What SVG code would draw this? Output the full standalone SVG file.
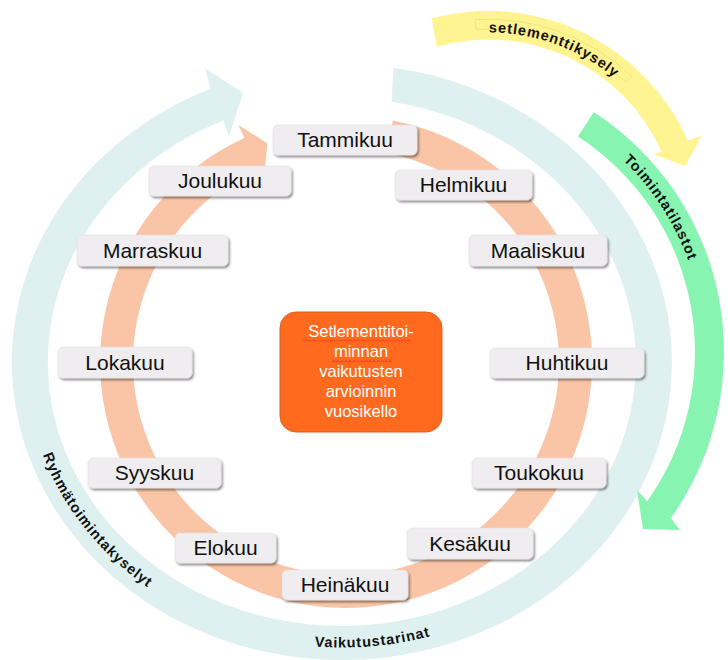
<svg xmlns="http://www.w3.org/2000/svg" width="728" height="660" viewBox="0 0 728 660">
<defs>
<style>
.month rect{fill:#EFEDEF;stroke:#E2E0E2;stroke-width:0.6;filter:url(#sh)}
.month text{font-family:"Liberation Sans",Arial,sans-serif;font-size:21px;fill:#111;text-anchor:middle}
.arclbl{font-family:"Liberation Sans",Arial,sans-serif;font-size:14.5px;font-weight:bold;fill:#111;letter-spacing:0.9px;text-anchor:middle}
.ctr{font-family:"Liberation Sans",Arial,sans-serif;font-size:16.5px;fill:#fff;text-anchor:middle}
</style>
<filter id="sh" x="-10%" y="-20%" width="125%" height="160%">
<feDropShadow dx="1.5" dy="2" stdDeviation="1.2" flood-color="#000" flood-opacity="0.45"/>
</filter>
<pattern id="squig" patternUnits="userSpaceOnUse" width="4" height="3">
<path d="M0,2.5 L2,0.5 L4,2.5" fill="none" stroke="#E02828" stroke-width="0.8"/>
</pattern>
<path id="tpY" d="M389.7,58.7 A197 197 0 0 1 685.2,229.3" fill="none"/>
<path id="tpG" d="M438,85.5 A266.5 266.5 0 0 1 668.8,485.3" fill="none"/>
<path id="tpT" d="M25.5,362 A316.5 285.5 0 0 0 658.5,362" fill="none"/>
</defs>

<g id="connectors">
<path id="arrow-teal" d="M393.6,67.7 A330 298 0 1 1 210.4,88.7 L205,68 L243,93 L229,136 L223.3,120.4 A294 264 0 1 0 391.5,101.8 Z" fill="#DEF1F0"/>
<path id="arrow-orange" d="M392.9,120.5 A246 246 0 1 1 244.4,138 L238.5,124.9 L267.3,143.3 L263.9,181 L258,168 A213 213 0 1 0 386.6,152.9 Z" fill="#F9C5A6"/>
<path id="arrow-green" d="M593.8,112.1 A286 286 0 0 1 670.8,518.1 L680,530 L643,529 L637,490 L647.2,501.2 A257 257 0 0 0 578,136.5 Z" fill="#88F4B2"/>
<path id="arrow-yellow" d="M431.7,18.3 A218.4 218.4 0 0 1 687.7,140.5 L701.7,136 L685,166 L653,154 L661.8,152 A190 190 0 0 0 436.7,46.7 Z" fill="#FFF491"/>
<path d="M475.2,19.5 A210.5 210.5 0 0 1 631.6,76 L626.3,82.3 A200.5 200.5 0 0 0 475.8,29.4 Z" fill="none" stroke="#EADB6A" stroke-width="0.8" opacity="0.8"/>
</g>

<g id="arc-labels">
<text class="arclbl"><textPath href="#tpY" startOffset="171.9">setlementtikysely</textPath></text>
<text class="arclbl"><textPath href="#tpG" startOffset="265.1">Toimintatilastot</textPath></text>
<text class="arclbl"><textPath href="#tpT" startOffset="181">Ryhmätoimintakyselyt</textPath></text>
<text class="arclbl"><textPath href="#tpT" startOffset="504">Vaikutustarinat</textPath></text>
</g>

<g id="center">
<rect x="280" y="312" width="162" height="120" rx="16" fill="#FF6A1E" stroke="#D9601C" stroke-width="1"/>
<rect x="303" y="339.5" width="108" height="3" fill="url(#squig)"/>
<rect x="332" y="359.5" width="60" height="3" fill="url(#squig)"/>
<text class="ctr" x="361" y="337">Setlementtitoi-</text>
<text class="ctr" x="361" y="357">minnan</text>
<text class="ctr" x="361" y="377">vaikutusten</text>
<text class="ctr" x="361" y="397">arvioinnin</text>
<text class="ctr" x="361" y="417">vuosikello</text>
</g>

<g id="m01" class="month"><rect x="273" y="125" width="144" height="30" rx="5"/><text x="345" y="147">Tammikuu</text></g>
<g id="m02" class="month"><rect x="395" y="170" width="137" height="30" rx="5"/><text x="463.5" y="192">Helmikuu</text></g>
<g id="m03" class="month"><rect x="469" y="235" width="138" height="31" rx="5"/><text x="538" y="257.5">Maaliskuu</text></g>
<g id="m04" class="month"><rect x="490" y="348" width="154" height="30" rx="5"/><text x="567" y="370">Huhtikuu</text></g>
<g id="m05" class="month"><rect x="472" y="458" width="134" height="30" rx="5"/><text x="539" y="480">Toukokuu</text></g>
<g id="m06" class="month"><rect x="407" y="528" width="126" height="31" rx="5"/><text x="470" y="550.5">Kesäkuu</text></g>
<g id="m07" class="month"><rect x="282" y="570" width="126" height="30" rx="5"/><text x="345" y="592">Heinäkuu</text></g>
<g id="m08" class="month"><rect x="175" y="533" width="101" height="30" rx="5"/><text x="225.5" y="555">Elokuu</text></g>
<g id="m09" class="month"><rect x="88" y="458" width="133" height="30" rx="5"/><text x="154.5" y="480">Syyskuu</text></g>
<g id="m10" class="month"><rect x="58" y="347" width="134" height="31" rx="5"/><text x="125" y="369.5">Lokakuu</text></g>
<g id="m11" class="month"><rect x="77" y="235" width="151" height="31" rx="5"/><text x="152.5" y="257.5">Marraskuu</text></g>
<g id="m12" class="month"><rect x="149" y="166" width="142" height="30" rx="5"/><text x="220" y="188">Joulukuu</text></g>
</svg>
